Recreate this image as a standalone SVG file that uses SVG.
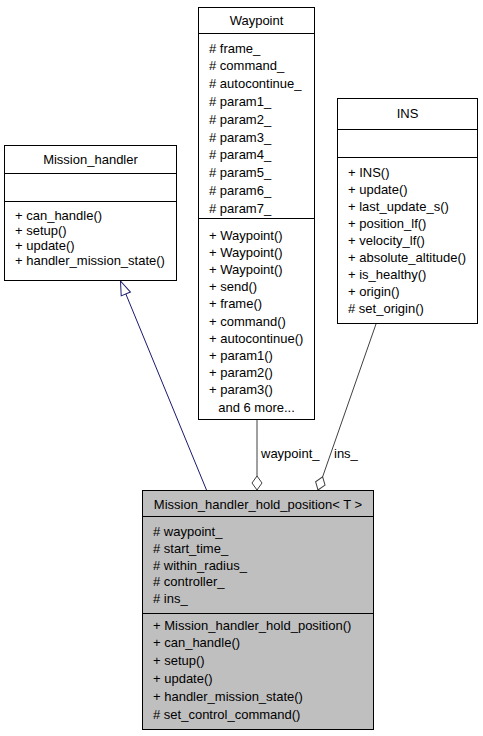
<svg xmlns="http://www.w3.org/2000/svg" width="483" height="736" viewBox="0 0 483 736">
  <style>
    .box { fill: #ffffff; stroke: #000000; stroke-width: 1; }
    .box.focus { fill: #bfbfbf; }
    .sep { stroke: #000000; stroke-width: 1; }
    text { font-family: "Liberation Sans", Arial, Helvetica, sans-serif; font-size: 13px; fill: #000000; }
    .title { text-anchor: middle; }
    .center { text-anchor: middle; }
    .inherit { fill: none; stroke: #191970; stroke-width: 1; }
    .member { fill: none; stroke: #404040; stroke-width: 1; }
  </style>
  <defs>
    <!-- hollow triangle for generalisation, tip at the path end -->
    <marker id="arrow-inherit" markerUnits="userSpaceOnUse" markerWidth="16" markerHeight="12" viewBox="-15 -6 16 12" refX="0" refY="0" orient="auto">
      <path d="M0,0 L-14,-5 L-14,5 Z" fill="#ffffff" stroke="#191970" stroke-width="1"/>
    </marker>
    <!-- hollow diamond for aggregation, tip at the path end -->
    <marker id="diamond-member" markerUnits="userSpaceOnUse" markerWidth="16" markerHeight="12" viewBox="-15 -6 16 12" refX="0" refY="0" orient="auto">
      <path d="M0,0 L-7,-5 L-14,0 L-7,5 Z" fill="#ffffff" stroke="#404040" stroke-width="1"/>
    </marker>
  </defs>

  <!-- relations -->
  <g id="edges">
    <path class="inherit" d="M206.5,490 L120.5,281" marker-end="url(#arrow-inherit)"/>
    <path class="member" d="M257,420 L257,490" marker-end="url(#diamond-member)"/>
    <text x="261" y="457.5">waypoint_</text>
    <path class="member" d="M376,324 L318,490" marker-end="url(#diamond-member)"/>
    <text x="334" y="457.5">ins_</text>
  </g>

  <!-- base class -->
  <g id="node-mission-handler">
    <rect class="box" x="4.5" y="145.5" width="172" height="135"/>
    <line class="sep" x1="4.5" y1="173.5" x2="176.5" y2="173.5"/>
    <line class="sep" x1="4.5" y1="201.5" x2="176.5" y2="201.5"/>
    <text class="title" x="90.5" y="163.5">Mission_handler</text>
    <text x="15" y="220">+ can_handle()</text>
    <text x="15" y="235">+ setup()</text>
    <text x="15" y="250">+ update()</text>
    <text x="15" y="265">+ handler_mission_state()</text>
  </g>

  <g id="node-waypoint">
    <rect class="box" x="198.5" y="7.5" width="116" height="412"/>
    <line class="sep" x1="198.5" y1="33.5" x2="314.5" y2="33.5"/>
    <line class="sep" x1="198.5" y1="218.5" x2="314.5" y2="218.5"/>
    <text class="title" x="256.5" y="25">Waypoint</text>
    <text x="209" y="52.5"># frame_</text>
    <text x="209" y="70.3"># command_</text>
    <text x="209" y="88.1"># autocontinue_</text>
    <text x="209" y="105.9"># param1_</text>
    <text x="209" y="123.7"># param2_</text>
    <text x="209" y="141.5"># param3_</text>
    <text x="209" y="159.3"># param4_</text>
    <text x="209" y="177.1"># param5_</text>
    <text x="209" y="194.9"># param6_</text>
    <text x="209" y="212.7"># param7_</text>
    <text x="209" y="239.5">+ Waypoint()</text>
    <text x="209" y="256.7">+ Waypoint()</text>
    <text x="209" y="273.9">+ Waypoint()</text>
    <text x="209" y="291.1">+ send()</text>
    <text x="209" y="308.3">+ frame()</text>
    <text x="209" y="325.5">+ command()</text>
    <text x="209" y="342.7">+ autocontinue()</text>
    <text x="209" y="359.9">+ param1()</text>
    <text x="209" y="377.1">+ param2()</text>
    <text x="209" y="394.3">+ param3()</text>
    <text class="center" x="256.5" y="411.5">and 6 more...</text>
  </g>

  <g id="node-ins">
    <rect class="box" x="337.5" y="98.5" width="140" height="225"/>
    <line class="sep" x1="337.5" y1="129.5" x2="477.5" y2="129.5"/>
    <line class="sep" x1="337.5" y1="157.5" x2="477.5" y2="157.5"/>
    <text class="title" x="407.5" y="118">INS</text>
    <text x="348" y="176.5">+ INS()</text>
    <text x="348" y="193.5">+ update()</text>
    <text x="348" y="210.5">+ last_update_s()</text>
    <text x="348" y="227.5">+ position_lf()</text>
    <text x="348" y="244.5">+ velocity_lf()</text>
    <text x="348" y="261.5">+ absolute_altitude()</text>
    <text x="348" y="278.5">+ is_healthy()</text>
    <text x="348" y="295.5">+ origin()</text>
    <text x="348" y="312.5"># set_origin()</text>
  </g>

  <g id="node-hold-position">
    <rect class="box focus" x="142.5" y="490.5" width="231" height="239"/>
    <line class="sep" x1="142.5" y1="516.5" x2="373.5" y2="516.5"/>
    <line class="sep" x1="142.5" y1="613.5" x2="373.5" y2="613.5"/>
    <text class="title" x="258" y="508.5">Mission_handler_hold_position&lt; T &gt;</text>
    <text x="153" y="536"># waypoint_</text>
    <text x="153" y="552.8"># start_time_</text>
    <text x="153" y="569.6"># within_radius_</text>
    <text x="153" y="586.4"># controller_</text>
    <text x="153" y="603.2"># ins_</text>
    <text x="153" y="629.5">+ Mission_handler_hold_position()</text>
    <text x="153" y="647.3">+ can_handle()</text>
    <text x="153" y="665.1">+ setup()</text>
    <text x="153" y="682.9">+ update()</text>
    <text x="153" y="700.7">+ handler_mission_state()</text>
    <text x="153" y="718.5"># set_control_command()</text>
  </g>
</svg>
